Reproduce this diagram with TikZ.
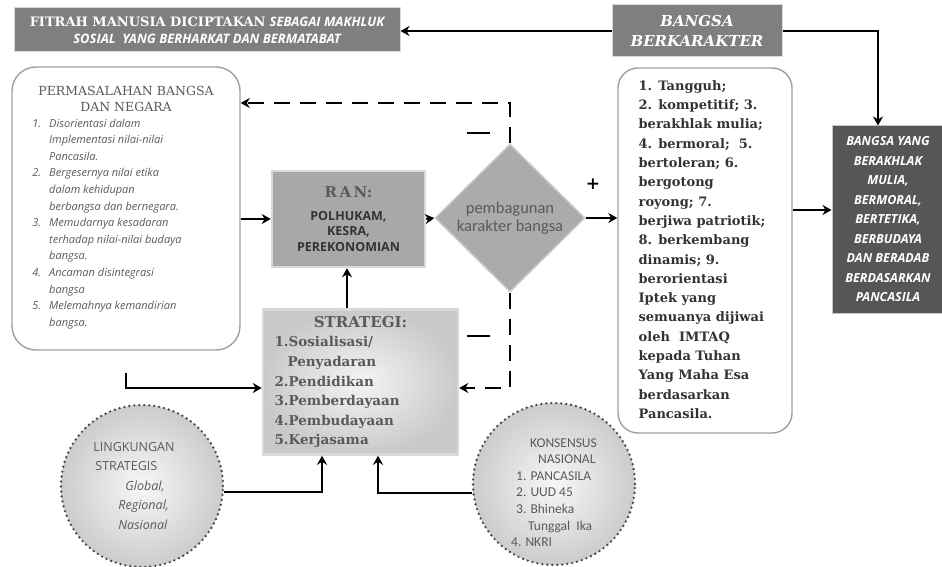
\documentclass[tikz,border=0pt]{standalone}
\usepackage{fontspec}
\setmainfont{DejaVu Serif}
\setsansfont{Open Sans}
\newfontfamily\calibrifont{Carlito}
\usetikzlibrary{shapes.geometric,arrows.meta,positioning}
\definecolor{boxgray}{HTML}{7F7F7F}
\definecolor{darkbox}{HTML}{565656}
\definecolor{textgray}{HTML}{5A5A5A}
\definecolor{inkgray}{HTML}{333333}

\begin{document}
\begin{tikzpicture}[x=1pt,y=-1pt,
      arrow/.style={-{Stealth[length=9pt,width=10pt]},line width=2.2pt,black},
      dash arrow/.style={arrow,dash pattern=on 16pt off 10pt},
      gray box/.style={fill=boxgray,draw=gray!30,line width=1pt,text=white,inner sep=0pt,align=center},
      list box/.style={draw=gray!75,line width=1.4pt,fill=white,inner sep=0pt,align=center},
      bevel box/.style={draw=gray!30,line width=2.5pt,inner sep=0pt},
      dot circle/.style={circle,draw=gray!55!black,line width=2.6pt,dash pattern=on 0pt off 5pt,line cap=round,
         inner color=gray!6,outer color=gray!40,inner sep=0pt,minimum size=162pt,text=textgray},
      sign/.style={inner sep=0pt,text=black}
   ]
   \useasboundingbox (0,0) rectangle (942,567);

   % grey title boxes
   \node[gray box,minimum width=386pt,minimum height=44pt,font=\fontsize{13}{17}\selectfont] (fitrah) at (207,30)
      {\textbf{FITRAH MANUSIA DICIPTAKAN} {\sffamily\bfseries\itshape SEBAGAI MAKHLUK}\\
       \sffamily\bfseries\itshape SOSIAL\ \ YANG BERHARKAT DAN BERMATABAT};
   \node[gray box,minimum width=170pt,minimum height=52pt,font=\fontsize{15}{20}\selectfont\bfseries\itshape] (bangsa) at (697,31)
      {BANGSA\\BERKARAKTER};
   \node[gray box,fill=darkbox,draw=gray!45,minimum width=112pt,minimum height=187pt,
         font=\fontsize{12.5}{19.5}\selectfont\sffamily\bfseries\itshape] (akhlak) at (888,219.5)
      {BANGSA YANG\\BERAKHLAK\\MULIA,\\BERMORAL,\\BERTETIKA,\\BERBUDAYA\\DAN BERADAB\\BERDASARKAN\\PANCASILA};

   % problem list
   \node[list box,rounded corners=24pt,minimum width=228pt,minimum height=283pt,text=textgray,
         font=\fontsize{12.5}{16}\selectfont] (masalah) at (126,208.5)
      {PERMASALAHAN BANGSA\\DAN NEGARA\\
       {\sffamily\itshape\fontsize{11}{16.6}\selectfont
       \begin{tabular}[t]{@{}r@{\hspace{8pt}}l@{\hspace{38pt}}}
         1. & Disorientasi dalam\\
            & Implementasi nilai-nilai\\
            & Pancasila.\\
         2. & Bergesernya nilai etika\\
            & dalam kehidupan\\
            & berbangsa dan bernegara.\\
         3. & Memudarnya kesadaran\\
            & terhadap nilai-nilai budaya\\
            & bangsa.\\
         4. & Ancaman disintegrasi\\
            & bangsa\\
         5. & Melemahnya kemandirian\\
            & bangsa.
       \end{tabular}}};

   % RAN and diamond
   \node[bevel box,fill=gray!68,minimum width=153pt,minimum height=96pt,align=center,text=inkgray,
         font=\fontsize{12.5}{15.5}\selectfont\sffamily\bfseries] (ran) at (348.5,219)
      {{\rmfamily\fontsize{15}{18}\selectfont\color{textgray}R\,A\,N:}\\[7pt]
       POLHUKAM,\\KESRA,\\PEREKONOMIAN};
   \node[diamond,fill=gray!66,draw=gray!40,line width=1.5pt,minimum width=150pt,minimum height=148pt,
         inner sep=0pt,align=center,text=textgray,font=\calibrifont\fontsize{16.5}{18.5}\selectfont] (pk) at (510,218)
      {pembagunan\\karakter bangsa};

   % character list
   \node[list box,rounded corners=20pt,minimum width=174pt,minimum height=365pt,text=inkgray,
         font=\fontsize{13}{19.3}\selectfont\bfseries] (ciri) at (705,250.5)
      {\begin{tabular}{@{}l@{\hspace{6pt}}}
         1. Tangguh;\\
         2. kompetitif; 3.\\
         berakhlak mulia;\\
         4. bermoral;\ \ 5.\\
         bertoleran; 6.\\
         bergotong\\
         royong; 7.\\
         berjiwa patriotik;\\
         8. berkembang\\
         dinamis; 9.\\
         berorientasi\\
         Iptek yang\\
         semuanya dijiwai\\
         oleh\ \ IMTAQ\\
         kepada Tuhan\\
         Yang Maha Esa\\
         berdasarkan\\
         Pancasila.
       \end{tabular}};

   % strategy box
   \node[bevel box,inner color=gray!8,outer color=gray!42,minimum width=195pt,minimum height=145pt,
         align=left,text=textgray,font=\fontsize{13.5}{19.6}\selectfont\bfseries] (strat) at (360.5,382)
      {\makebox[172pt]{\fontsize{15}{19.6}\selectfont STRATEGI:}\\
       1.Sosialisasi/\\
       \hspace*{13pt}Penyadaran\\
       2.Pendidikan\\
       3.Pemberdayaan\\
       4.Pembudayaan\\
       5.Kerjasama};

   % environment circles
   \node[dot circle,align=left,font=\sffamily\fontsize{12.5}{19.5}\selectfont] (ling) at (142,486)
      {LINGKUNGAN\hspace*{16pt}\\
       \hspace*{2pt}STRATEGIS\\
       \hspace*{32pt}\itshape Global,\\
       \hspace*{25pt}\itshape Regional,\\
       \hspace*{25pt}\itshape Nasional};
   \node[dot circle,align=left,font=\calibrifont\fontsize{13.5}{16.6}\selectfont] (kons) at (554,484)
      {\rule{0pt}{26pt}\hspace*{19pt}KONSENSUS\\
       \hspace*{27pt}NASIONAL\\
       \hspace*{5pt}1. PANCASILA\\
       \hspace*{5pt}2. UUD 45\\
       \hspace*{5pt}3. Bhineka\\
       \hspace*{17pt}Tunggal\ \ Ika\\
       4. NKRI};

   \coordinate[below=22pt of masalah.south] (masalahout);

   % signs
   \node[sign] (minustop) at (478,133) {\rule{23pt}{2.6pt}};
   \node[sign] (minusbot) at (478,336) {\rule{23pt}{2.6pt}};
   \node[sign,font=\fontsize{17}{17}\selectfont\bfseries] (plus) at (593,184) {+};

   \begin{scope}[arrow]
      \draw (bangsa.west) -- (bangsa.west -| fitrah.east);
      \draw (bangsa.east) -| ([xshift=-10pt]akhlak.north);
      \draw (masalah.east |- ran.west) -- (ran.west);
      \draw (ran.east) -- (pk.west);
      \draw (pk.east) -- (pk.east -| ciri.west);
      \draw (ciri.east |- 0,210) -- (akhlak.west |- 0,210);
      \draw (strat.north -| 347,0) -- (ran.south -| 347,0);
      \draw (masalahout) -- (masalahout |- 0,388) -- (strat.west |- 0,388);
      \draw (ling.east |- 0,492) -| (strat.south -| 322,0);
      \draw (kons.west |- 0,493) -| (strat.south -| 378,0);
      \draw[dash arrow] (pk.north) -- (pk.north |- 0,103) -- (masalah.east |- 0,103);
      \draw[dash arrow] (pk.south) -- (pk.south |- 0,388) -- (strat.east |- 0,388);
   \end{scope}
\end{tikzpicture}
\end{document}
